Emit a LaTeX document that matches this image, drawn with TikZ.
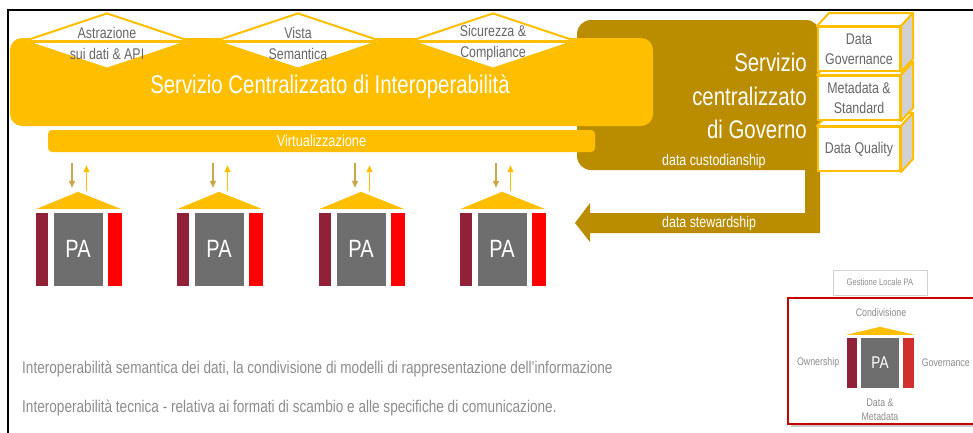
\documentclass[tikz,border=0pt]{standalone}
\usepackage{fontspec}
\setmainfont{Liberation Sans}[FakeStretch=0.8]
\usepackage{tikz}
\definecolor{InteropYellow}{rgb}{1.0, 0.75, 0.0}
\definecolor{GovernGold}{rgb}{0.73, 0.55, 0.0}
\definecolor{ArrowKhaki}{rgb}{0.79, 0.66, 0.30}
\definecolor{PADarkRed}{rgb}{0.57, 0.13, 0.22}
\definecolor{PARed}{rgb}{1.0, 0.0, 0.0}
\definecolor{PASoftRed}{rgb}{0.82, 0.18, 0.18}
\definecolor{PAGray}{rgb}{0.43, 0.43, 0.43}
\definecolor{LabelGray}{rgb}{0.40, 0.40, 0.40}
\definecolor{NoteGray}{rgb}{0.55, 0.55, 0.55}
\definecolor{FrameRed}{rgb}{0.78, 0.0, 0.0}
\definecolor{CubeSide}{rgb}{0.82, 0.82, 0.82}
\newcommand{\FontPt}[2]{\fontsize{#1}{#2}\selectfont}
\usetikzlibrary{
	positioning,
	calc,
	arrows.meta,
	shapes.geometric
}

\begin{document}
\begin{tikzpicture}[
		x=1pt, y=-1pt,
		every node/.style={inner sep=0pt},
		mainband/.style={fill=InteropYellow, rounded corners=12pt, minimum width=643pt, minimum height=88pt},
		virtband/.style={fill=InteropYellow, rounded corners=4pt, minimum width=547pt, minimum height=22pt, text=white, font=\FontPt{16}{16}},
		titletext/.style={text=white, font=\FontPt{25.5}{26}},
		facet/.style={diamond, draw=InteropYellow, fill=white, line width=2pt, minimum width=166pt, minimum height=56pt},
		facetcut/.style={draw=InteropYellow, line width=3pt},
		facettext/.style={align=center, text=LabelGray, font=\FontPt{15.5}{21}},
		govtext/.style={align=right, text=white, font=\FontPt{25.5}{33.5}},
		flowtext/.style={text=white, font=\FontPt{15.5}{16}},
		cubefront/.style={draw=InteropYellow, line width=2pt, fill=white, minimum width=82pt, minimum height=44pt, align=center, text=LabelGray, font=\FontPt{15.5}{20}},
		cubetop/.style={draw=InteropYellow, line width=2pt, fill=white, line join=round},
		cubeside/.style={draw=InteropYellow, line width=2pt, fill=CubeSide, line join=round},
		pacore/.style={fill=PAGray, minimum width=49pt, minimum height=73pt, text=white, font=\FontPt{25}{25}},
		paown/.style={fill=PADarkRed, minimum width=12.5pt, minimum height=73pt},
		pagov/.style={fill=PARed, minimum width=14pt, minimum height=73pt},
		paroof/.style={fill=InteropYellow},
		downflow/.style={draw=ArrowKhaki, line width=1.2pt, -{Triangle[width=6pt,length=7pt]}},
		upflow/.style={draw=InteropYellow, line width=1.2pt, -{Triangle[width=6pt,length=7pt]}},
		localtag/.style={draw=gray!35, line width=0.8pt, minimum width=94pt, minimum height=25pt, text=NoteGray, font=\FontPt{9.5}{10}},
		localtext/.style={align=center, text=NoteGray, font=\FontPt{11}{14}},
		notetext/.style={text=NoteGray, font=\FontPt{17}{18}}
	]
		\useasboundingbox (0,0) rectangle (973,432);
		\draw[line width=2.5pt] (8,433) -- (8,10) -- (974,10);

		\fill[GovernGold] (805,170) [rounded corners=14pt] -- (577,170) -- (577,20) -- (820,20) [sharp corners] -- (820,233)
			-- (590,233) -- (590,242) -- (575,223) -- (590,203) -- (590,213) -- (805,213) -- cycle;

		\node[mainband] (interop) at (331.5,82) {};
		\node[titletext, anchor=base] (interoptitle) at (330,93) {Servizio Centralizzato di Interoperabilità};

		\node[facet] (facetapi) at (107,41) {};
		\node[facet] (facetsem) at (298,41) {};
		\node[facet] (facetsec) at (493,41) {};
		\draw[facetcut] ([xshift=6pt]facetapi.west) -- ([xshift=-6pt]facetapi.east);
		\draw[facetcut] ([xshift=6pt]facetsem.west) -- ([xshift=-6pt]facetsem.east);
		\draw[facetcut] ([xshift=6pt]facetsec.west) -- ([xshift=-6pt]facetsec.east);
		\node[facettext] (facetapitext) at ([yshift=-2pt]facetapi) {Astrazione\\sui dati \& API};
		\node[facettext] (facetsemtext) at ([yshift=-2pt]facetsem) {Vista\\Semantica};
		\node[facettext] (facetsectext) at ([yshift=-2pt]facetsec) {Sicurezza \&\\Compliance};

		\node[virtband] (virt) at (321.5,141) {Virtualizzazione};

		\node[govtext, anchor=east] (govtitle) at (807,96) {Servizio\\centralizzato\\di Governo};
		\node[flowtext, anchor=base west] (custody) at (662,165) {data custodianship};
		\node[flowtext, anchor=base west] (steward) at (662,227) {data stewardship};

		\node[cubefront] (cubequal) at (859,149) {Data Quality};
		\filldraw[cubetop] (cubequal.north west) -- ++(12pt,13pt) -- ([shift={(12pt,13pt)}]cubequal.north east) -- (cubequal.north east) -- cycle;
		\filldraw[cubeside] (cubequal.north east) -- ++(12pt,13pt) -- ([shift={(12pt,13pt)}]cubequal.south east) -- (cubequal.south east) -- cycle;
		\node[cubefront] (cubemeta) at (859,98) {Metadata \&\\Standard};
		\filldraw[cubetop] (cubemeta.north west) -- ++(12pt,13pt) -- ([shift={(12pt,13pt)}]cubemeta.north east) -- (cubemeta.north east) -- cycle;
		\filldraw[cubeside] (cubemeta.north east) -- ++(12pt,13pt) -- ([shift={(12pt,13pt)}]cubemeta.south east) -- (cubemeta.south east) -- cycle;
		\node[cubefront] (cubegov) at (859,49) {Data\\Governance};
		\filldraw[cubetop] (cubegov.north west) -- ++(12pt,13pt) -- ([shift={(12pt,13pt)}]cubegov.north east) -- (cubegov.north east) -- cycle;
		\filldraw[cubeside] (cubegov.north east) -- ++(12pt,13pt) -- ([shift={(12pt,13pt)}]cubegov.south east) -- (cubegov.south east) -- cycle;

		\node[pacore] (pa1) at (78,249) {PA};
		\node[paown, left=5pt of pa1] (paown1) {};
		\node[pagov, right=5pt of pa1] (pagov1) {};
		\coordinate (paroof1) at ([yshift=20.5pt]pa1.north);
		\fill[paroof] ([shift={(1.5pt,3.5pt)}]paown1.north west) -- (paroof1) -- ([shift={(-1.5pt,3.5pt)}]pagov1.north east) -- cycle;

		\node[pacore] (pa2) at (219,249) {PA};
		\node[paown, left=5pt of pa2] (paown2) {};
		\node[pagov, right=5pt of pa2] (pagov2) {};
		\coordinate (paroof2) at ([yshift=20.5pt]pa2.north);
		\fill[paroof] ([shift={(1.5pt,3.5pt)}]paown2.north west) -- (paroof2) -- ([shift={(-1.5pt,3.5pt)}]pagov2.north east) -- cycle;

		\node[pacore] (pa3) at (361,249) {PA};
		\node[paown, left=5pt of pa3] (paown3) {};
		\node[pagov, right=5pt of pa3] (pagov3) {};
		\coordinate (paroof3) at ([yshift=20.5pt]pa3.north);
		\fill[paroof] ([shift={(1.5pt,3.5pt)}]paown3.north west) -- (paroof3) -- ([shift={(-1.5pt,3.5pt)}]pagov3.north east) -- cycle;

		\node[pacore] (pa4) at (502,249) {PA};
		\node[paown, left=5pt of pa4] (paown4) {};
		\node[pagov, right=5pt of pa4] (pagov4) {};
		\coordinate (paroof4) at ([yshift=20.5pt]pa4.north);
		\fill[paroof] ([shift={(1.5pt,3.5pt)}]paown4.north west) -- (paroof4) -- ([shift={(-1.5pt,3.5pt)}]pagov4.north east) -- cycle;

		\draw[downflow] ($(virt.south -| paroof1)+(-6pt,-11pt)$) -- ([shift={(-6pt,4pt)}]paroof1);
		\draw[upflow] ([shift={(8.5pt,1pt)}]paroof1) -- ($(virt.south -| paroof1)+(8.5pt,-13pt)$);
		\draw[downflow] ($(virt.south -| paroof2)+(-6pt,-11pt)$) -- ([shift={(-6pt,4pt)}]paroof2);
		\draw[upflow] ([shift={(8.5pt,1pt)}]paroof2) -- ($(virt.south -| paroof2)+(8.5pt,-13pt)$);
		\draw[downflow] ($(virt.south -| paroof3)+(-6pt,-11pt)$) -- ([shift={(-6pt,4pt)}]paroof3);
		\draw[upflow] ([shift={(8.5pt,1pt)}]paroof3) -- ($(virt.south -| paroof3)+(8.5pt,-13pt)$);
		\draw[downflow] ($(virt.south -| paroof4)+(-6pt,-11pt)$) -- ([shift={(-6pt,4pt)}]paroof4);
		\draw[upflow] ([shift={(8.5pt,1pt)}]paroof4) -- ($(virt.south -| paroof4)+(8.5pt,-13pt)$);

		\node[localtag] (localtag) at (880,282.5) {Gestione Locale PA};
		\fill[gray!40] (791,301) rectangle (980,427);
		\filldraw[fill=white, draw=FrameRed, line width=2.5pt] (788,298) rectangle (980,424);

		\node[pacore, minimum width=38pt, minimum height=50pt, font=\FontPt{17}{17}] (pamain) at (880,363) {PA};
		\node[paown, minimum width=10pt, minimum height=50pt, left=4pt of pamain] (paownmain) {};
		\node[pagov, fill=PASoftRed, minimum width=11pt, minimum height=50pt, right=4pt of pamain] (pagovmain) {};
		\coordinate (paroofmain) at ([yshift=11pt]pamain.north);
		\fill[paroof] ([yshift=3pt]paownmain.north west) -- (paroofmain) -- ([yshift=3pt]pagovmain.north east) -- cycle;
		\node[localtext] (sharelabel) at (881,313) {Condivisione};
		\node[localtext, left=7pt of paownmain] (ownlabel) {Ownership};
		\node[localtext, right=7pt of pagovmain] (govlabel) {Governance};
		\node[localtext, below=10pt of pamain] (datalabel) {Data \&\\Metadata};

		\node[notetext, anchor=base west] (notesem) at (22,373) {Interoperabilità semantica dei dati, la condivisione di modelli di rappresentazione dell'informazione};
		\node[notetext, anchor=base west] (notetec) at (22,412) {Interoperabilità tecnica - relativa ai formati di scambio e alle specifiche di comunicazione.};
	\end{tikzpicture}
\end{document}
